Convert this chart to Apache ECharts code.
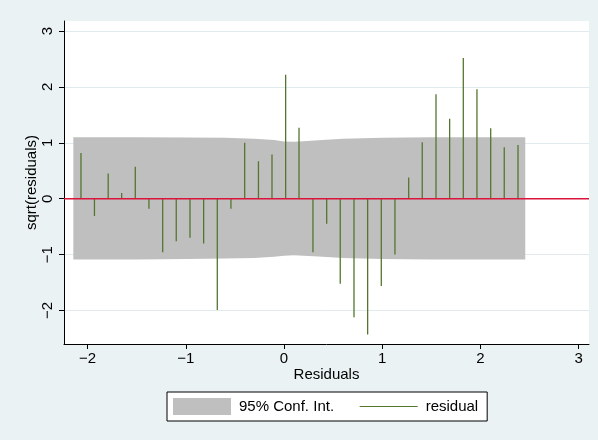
<!DOCTYPE html>
<html>
<head>
<meta charset="utf-8">
<script src="https://cdn.jsdelivr.net/npm/echarts@6/dist/echarts.min.js"></script>
<style>
html,body{margin:0;padding:0;background:#eaf2f3;}
#chart{width:598px;height:440px;}
</style>
</head>
<body>
<div id="chart"></div>
<script>
// Tick labels
const xTicks = [-2, -1, 0, 1, 2, 3];
const yTicks = [-2, -1, 0, 1, 2, 3];

// Residual spikes
const resX = [-2.067, -1.93, -1.79, -1.653, -1.514, -1.375, -1.235, -1.097, -0.957, -0.818, -0.679, -0.54, -0.40, -0.26, -0.122, 0.017, 0.153, 0.295, 0.435, 0.573, 0.713, 0.852, 0.991, 1.13, 1.27, 1.408, 1.548, 1.687, 1.826, 1.965, 2.105, 2.243, 2.383];
const resY = [0.82, -0.31, 0.45, 0.10, 0.57, -0.18, -0.96, -0.76, -0.70, -0.80, -1.99, -0.18, 1.00, 0.67, 0.79, 2.22, 1.27, -0.96, -0.45, -1.52, -2.12, -2.43, -1.56, -1.00, 0.38, 1.01, 1.87, 1.43, 2.52, 1.96, 1.26, 0.92, 0.96];

// 95% confidence band
const bandX = [-2.145, -1.5, -1.0, -0.6, -0.3, -0.1, 0.0, 0.1, 0.2, 0.35, 0.6, 1.0, 1.5, 2.0, 2.457];
const bandUpper = [1.10, 1.10, 1.095, 1.09, 1.075, 1.05, 1.025, 1.02, 1.03, 1.045, 1.075, 1.09, 1.10, 1.10, 1.10];
const bandLower = [-1.09, -1.09, -1.08, -1.07, -1.06, -1.04, -1.02, -1.01, -1.02, -1.035, -1.06, -1.08, -1.09, -1.09, -1.09];

const X_MIN = -2.24, X_MAX = 3.106, Y_MIN = -2.60, Y_MAX = 3.18;

const FONT = 'Liberation Sans, Arial, sans-serif';
const fmt = v => (v < 0 ? '\u2212' + Math.abs(v) : String(v));

const spikeData = [];
resX.forEach((x, i) => {
  spikeData.push([x, 0], [x, resY[i]], [x, '-']);
});

const chart = echarts.init(document.getElementById('chart'), null, {renderer: 'canvas'});
chart.setOption({
  backgroundColor: '#eaf2f3',
  animation: false,
  textStyle: {fontFamily: FONT},
  grid: {left: 64, top: 21, width: 525, height: 323, show: true, backgroundColor: '#ffffff', borderWidth: 0},
  xAxis: {
    type: 'value', min: X_MIN, max: X_MAX,
    name: 'Residuals', nameLocation: 'middle', nameGap: 23, nameMoveOverlap: false,
    nameTextStyle: {fontSize: 15, color: '#000', fontFamily: FONT},
    axisLine: {onZero: false, lineStyle: {color: '#000', width: 1}},
    axisTick: {show: true, length: 5, customValues: xTicks, lineStyle: {color: '#000'}},
    axisLabel: {customValues: xTicks, formatter: fmt, fontSize: 15, color: '#000', margin: 7, fontFamily: FONT},
    splitLine: {show: false}
  },
  yAxis: {
    type: 'value', min: Y_MIN, max: Y_MAX,
    name: 'sqrt(residuals)', nameLocation: 'middle', nameGap: 25, nameMoveOverlap: false,
    nameTextStyle: {fontSize: 15, color: '#000', fontFamily: FONT},
    axisLine: {show: true, onZero: false, lineStyle: {color: '#000', width: 1}},
    axisTick: {show: true, length: 5, customValues: yTicks, lineStyle: {color: '#000'}},
    axisLabel: {customValues: yTicks, formatter: fmt, rotate: 90, fontSize: 15, color: '#000', margin: 9, fontFamily: FONT},
    splitLine: {show: true, lineStyle: {color: '#e1ebee', width: 1}}
  },
  legend: {
    left: 167, top: 392,
    orient: 'horizontal',
    backgroundColor: '#ffffff', borderColor: '#000', borderWidth: 1, borderRadius: 0,
    padding: [6, 9, 6, 6],
    itemWidth: 58, itemHeight: 17, itemGap: 25,
    textStyle: {fontSize: 15, color: '#000', fontFamily: FONT, padding: [0, 0, 0, 3]},
    data: [
      {name: '95% Conf. Int.', icon: 'rect'},
      {name: 'residual', itemStyle: {opacity: 0}, lineStyle: {width: 1.2, color: '#55752f'}}
    ]
  },
  series: [
    {
      name: '95% Conf. Int.', type: 'line', color: '#bfbfbf',
      data: bandX.map((x, i) => [x, bandUpper[i]]),
      symbol: 'none', lineStyle: {width: 0, color: '#bfbfbf'},
      areaStyle: {color: '#bfbfbf', opacity: 1, origin: 0}, silent: true, z: 1
    },
    {
      name: 'bandLow', type: 'line', color: '#bfbfbf',
      data: bandX.map((x, i) => [x, bandLower[i]]),
      symbol: 'none', lineStyle: {width: 0, color: '#bfbfbf'},
      areaStyle: {color: '#bfbfbf', opacity: 1, origin: 0}, silent: true, z: 1
    },
    {
      name: 'residual', type: 'line', color: '#55752f',
      data: spikeData, connectNulls: false,
      symbol: 'none', lineStyle: {width: 1.3, color: '#55752f'}, z: 2
    },
    {
      name: 'zero', type: 'line', color: '#dc143c',
      data: [[X_MIN, 0], [X_MAX, 0]],
      symbol: 'none', lineStyle: {width: 1.6, color: '#dc143c'}, z: 3, silent: true
    }
  ]
});
</script>
</body>
</html>
